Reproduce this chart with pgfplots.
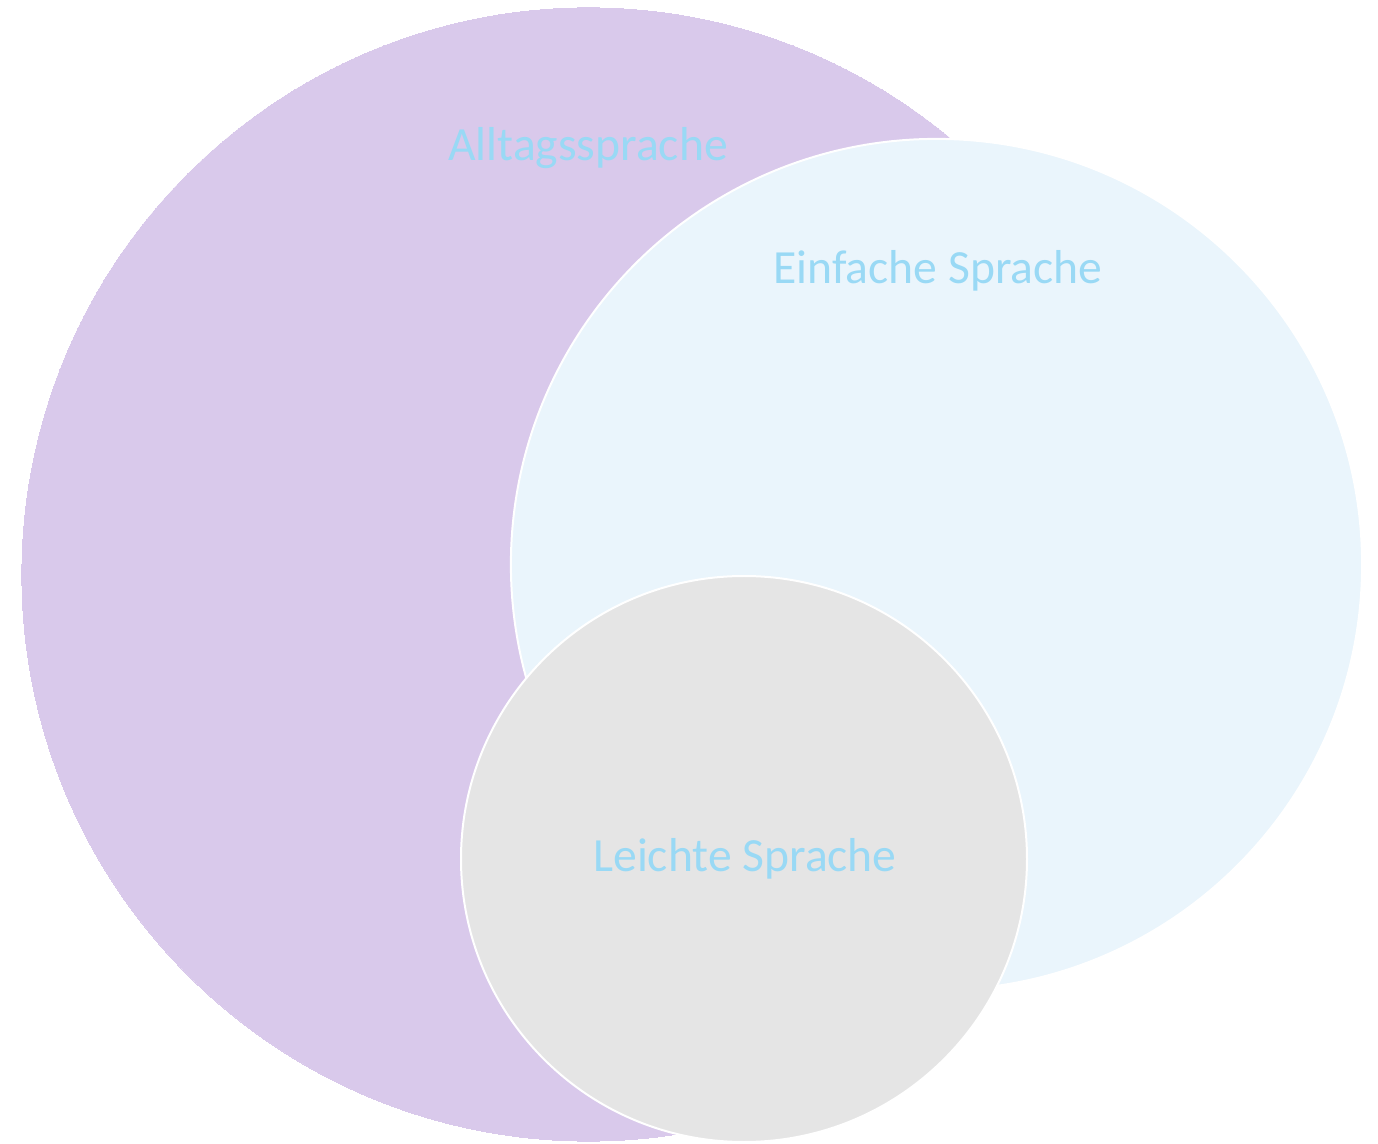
\documentclass[border=0pt]{standalone}
\usepackage{pgfplots}
\pgfplotsset{compat=1.18}
\usepackage{fontspec}
\setmainfont{Carlito}
\definecolor{cpurple}{HTML}{D9C9EB}
\definecolor{cblue}{HTML}{EAF5FC}
\definecolor{cgrey}{HTML}{E5E5E5}
\definecolor{ctext}{HTML}{99D9F5}
\begin{document}
\begin{tikzpicture}
\begin{axis}[
  width=689pt, height=572pt, scale only axis,
  xmin=0, xmax=1378, ymin=0, ymax=1144, y dir=reverse,
  axis line style={draw=none}, ticks=none, clip=false,
]
% circle radius given in px -> mark size = r * 0.5pt
\addplot[cpurple, only marks, mark=*, mark size=283.3pt, mark options={fill=cpurple, draw=cpurple, line width=0pt}] coordinates {(588.5,574.5)};
\addplot[white, only marks, mark=*, mark size=212.8pt, mark options={fill=cblue, draw=white, line width=1pt}] coordinates {(936.5,564.5)};
\addplot[white, only marks, mark=*, mark size=141.5pt, mark options={fill=cgrey, draw=white, line width=1pt}] coordinates {(744,859)};
\coordinate (A) at (axis cs:588,148);
\coordinate (B) at (axis cs:938,271);
\coordinate (C) at (axis cs:745,859);
\end{axis}
\node[text=ctext, font=\fontsize{23.8}{28}\selectfont] at (A) {Alltagssprache};
\node[text=ctext, font=\fontsize{23.8}{28}\selectfont] at (B) {Einfache Sprache};
\node[text=ctext, font=\fontsize{23.8}{28}\selectfont] at (C) {Leichte Sprache};
\end{tikzpicture}
\end{document}
